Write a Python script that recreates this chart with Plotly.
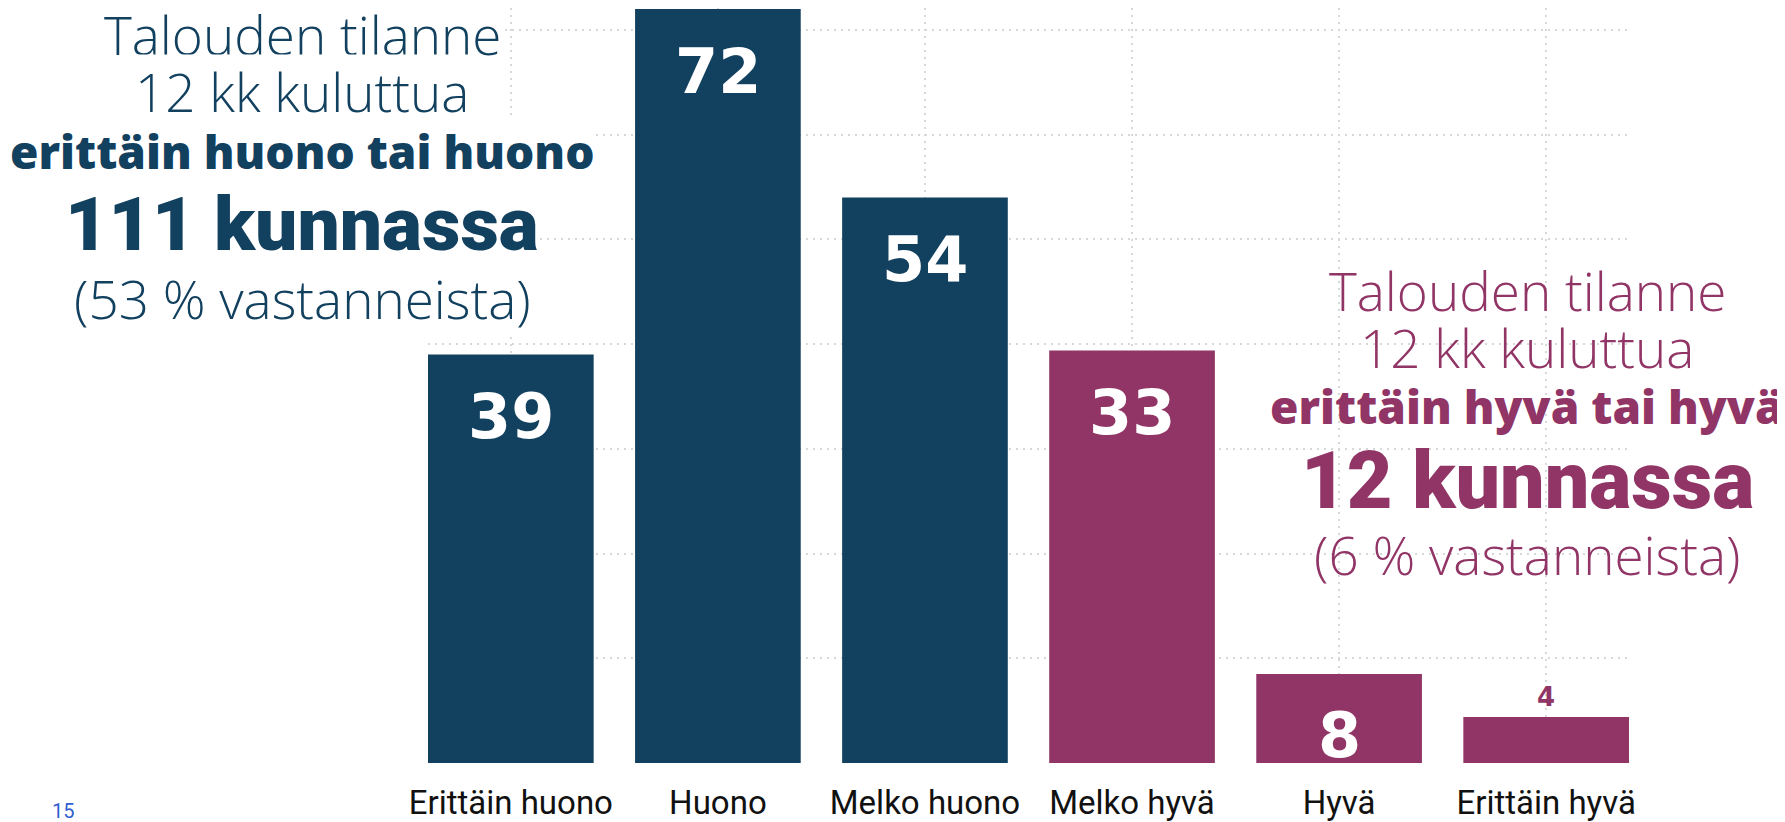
import plotly.graph_objects as go

# ---- data ----
categories = ["Erittäin huono", "Huono", "Melko huono", "Melko hyvä", "Hyvä", "Erittäin hyvä"]
bar_heights = [39, 72, 54, 39.4, 8.5, 4.4]          # heights as drawn in the reference
value_labels = ["39", "72", "54", "33", "8", "4"]     # numbers printed on the bars
bar_groups = ["bad", "bad", "bad", "good", "good", "good"]

left_lines = ["Talouden tilanne", "12 kk kuluttua", "erittäin huono tai huono",
              "111 kunnassa", "(53 % vastanneista)"]
right_lines = ["Talouden tilanne", "12 kk kuluttua", "erittäin hyvä tai hyvä",
               "12 kunnassa", "(6 % vastanneista)"]
page_number = "15"

# ---- styling ----
NAVY = "#12405f"
PURPLE = "#913466"
GRID = "#d8d8d8"
OFF = 8                      # page body margin
W, H = 1777, 822
ML, MR, MT, MB = 420, 156, 0, 67
PW, PH = W - ML - MR, H - MT - MB

group_color = {"bad": NAVY, "good": PURPLE}
colors = [group_color[g] for g in bar_groups]


def px(x):
    return (x - OFF - ML) / PW


def py(y):
    return (H - MB - (y - OFF)) / PH


fig = go.Figure(go.Bar(
    x=categories, y=bar_heights, marker_color=colors, width=0.8,
    marker_line_width=0, hoverinfo="skip"))

annotations = []
# value labels
for cat, h, lab in zip(categories, bar_heights, value_labels):
    if h >= 6:
        annotations.append(dict(
            x=cat, y=h, xref="x", yref="y", text=lab, showarrow=False,
            yanchor="middle", yshift=-62,
            font=dict(family="DejaVu Sans", size=62, color="white", weight=700)))
    else:
        annotations.append(dict(
            x=cat, y=h, xref="x", yref="y", text=lab, showarrow=False,
            yanchor="bottom", yshift=3,
            font=dict(family="DejaVu Sans", size=26, color=PURPLE, weight=700)))

# text blocks
light = dict(family="Open Sans", size=53, weight=300)
left_styles = [light, light,
               dict(family="Open Sans", size=46, weight=800),
               dict(family="Roboto", size=75, weight=900),
               light]
right_styles = [light, light,
                dict(family="Open Sans", size=46, weight=800),
                dict(family="Roboto", size=79, weight=900),
                light]
left_y = [34, 91, 151, 224, 298]
right_y = [290, 347, 406, 481, 554]
for txt, st, yy in zip(left_lines, left_styles, left_y):
    annotations.append(dict(
        x=px(302), y=py(yy), xref="paper", yref="paper", text=txt,
        showarrow=False, xanchor="center", yanchor="middle", bgcolor="white",
        borderpad=0, font=dict(color=NAVY, **st)))
for txt, st, yy in zip(right_lines, right_styles, right_y):
    annotations.append(dict(
        x=px(1527), y=py(yy), xref="paper", yref="paper", text=txt,
        showarrow=False, xanchor="center", yanchor="middle",
        font=dict(color=PURPLE, **st)))

annotations.append(dict(
    x=px(63), y=py(811), xref="paper", yref="paper", text=page_number,
    showarrow=False, xanchor="center", yanchor="middle",
    font=dict(family="Roboto", size=20, color="#2f5fd0")))

fig.update_layout(
    width=W, height=H,
    margin=dict(l=ML, r=MR, t=MT, b=MB, pad=0, autoexpand=False),
    paper_bgcolor="white", plot_bgcolor="white",
    showlegend=False, bargap=0.2,
    annotations=annotations,
    xaxis=dict(
        range=[-0.4, 5.4], showgrid=True, gridcolor=GRID, griddash="2px,5px",
        gridwidth=2, showline=False, zeroline=False, ticks="", ticklabelstandoff=17,
        automargin=False,
        tickfont=dict(family="Liberation Sans Narrow, Roboto", size=33, color="#111111")),
    yaxis=dict(
        range=[0, 72.1], dtick=10, showgrid=True, gridcolor=GRID, griddash="2px,5px",
        gridwidth=2, showticklabels=False, zeroline=False, showline=False,
        automargin=False),
)

fig.write_html("out.html")
